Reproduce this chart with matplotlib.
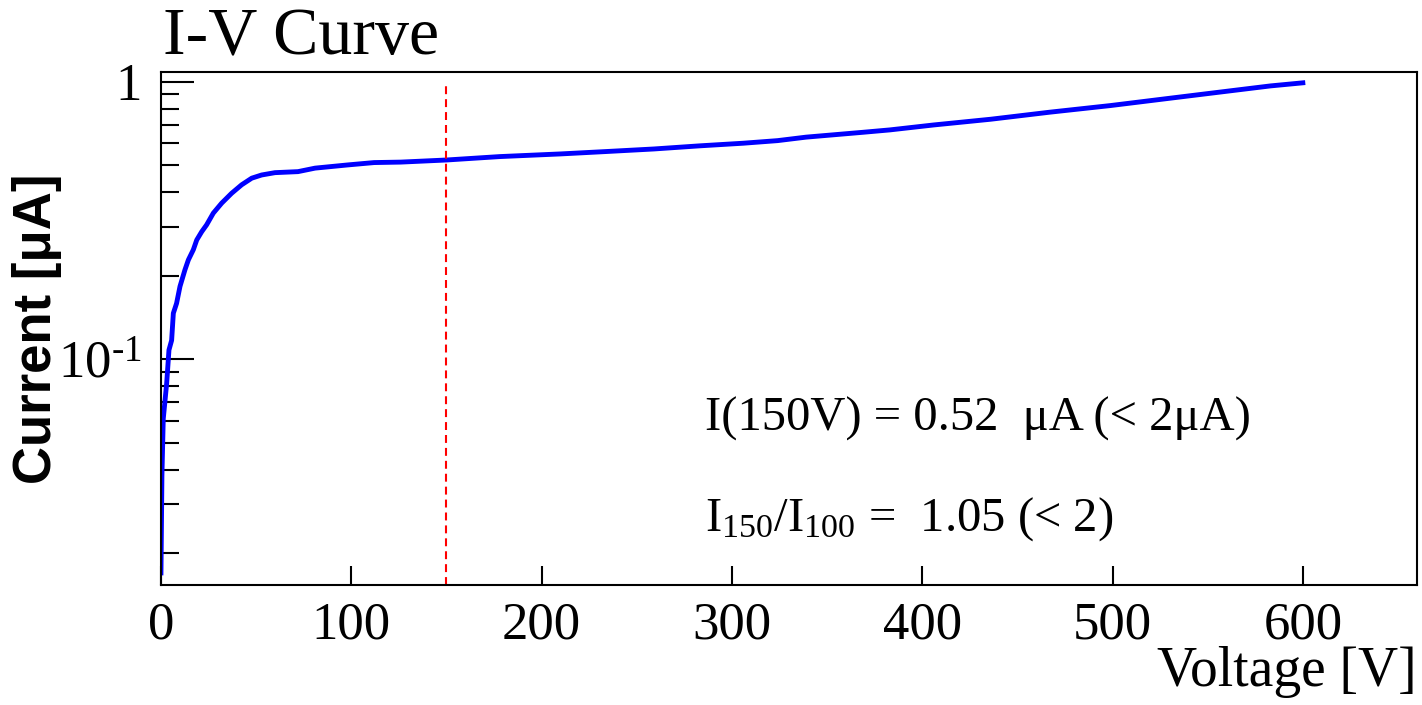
import numpy as np
import matplotlib
matplotlib.use('Agg')
import matplotlib.pyplot as plt
from matplotlib.ticker import FixedLocator, NullFormatter

plt.rcParams['font.family'] = 'Liberation Serif'
plt.rcParams['mathtext.fontset'] = 'custom'
plt.rcParams['mathtext.rm'] = 'Liberation Serif'
plt.rcParams['mathtext.it'] = 'Liberation Serif:italic'

# I-V scan: bias voltage [V] and leakage current [uA]
voltage = [0, 0.5, 1.2, 3.0, 4.2, 5.6, 6.5, 8.2, 10, 12.6, 14.4, 17, 18.8,
           21.4, 24, 27.5, 31.9, 37.1, 42.4, 47.7, 52.9, 59.9, 72, 81, 98,
           112, 126, 150, 178, 210, 234, 259, 283, 306, 324, 339, 353, 369,
           383, 406, 436, 467, 499, 530, 556, 583, 600]
current = [0.017, 0.038, 0.061, 0.082, 0.108, 0.117, 0.1465, 0.159, 0.183,
           0.210, 0.228, 0.248, 0.269, 0.288, 0.305, 0.336, 0.365, 0.396,
           0.425, 0.449, 0.461, 0.470, 0.474, 0.488, 0.501, 0.511, 0.513,
           0.522, 0.537, 0.549, 0.560, 0.572, 0.587, 0.600, 0.613, 0.631,
           0.643, 0.657, 0.670, 0.698, 0.732, 0.776, 0.820, 0.871, 0.916,
           0.965, 0.99]

v_check = 150
i_at_check = 0.52
ratio = 1.05

fig = plt.figure(figsize=(14.22, 7.05), dpi=100)
ax = fig.add_axes([0.1132, 0.1702, 0.8833, 0.7272])

ax.plot(voltage, current, color='blue', lw=3.5)
ax.set_yscale('log')
ax.set_xlim(0, 660)
ax.set_ylim(0.01538, 1.08)
ax.vlines(v_check, 0.01538, 1.0, color='red', lw=1.5, linestyles=(0, (3.8, 2.4)))

ax.set_xticks([0, 100, 200, 300, 400, 500, 600])
ax.yaxis.set_major_locator(FixedLocator([0.1, 1]))
ax.set_yticklabels(['10$^{\\text{-1}}$', '1'])
ax.yaxis.set_minor_locator(FixedLocator([0.02, 0.03, 0.04, 0.05, 0.06, 0.07, 0.08, 0.09,
                                         0.2, 0.3, 0.4, 0.5, 0.6, 0.7, 0.8, 0.9]))
ax.yaxis.set_minor_formatter(NullFormatter())
ax.tick_params(axis='x', direction='in', length=14, width=1.5, labelsize=38, pad=12)
ax.tick_params(axis='y', which='major', direction='in', length=24, width=1.5, labelsize=38, pad=14)
ax.tick_params(axis='y', which='minor', direction='in', length=13, width=1.5)
for s in ax.spines.values():
    s.set_linewidth(1.5)

ax.set_xlabel('Voltage [V]', fontsize=40, ha='right', va='top')
ax.xaxis.set_label_coords(1.0, -0.118)
ax.set_ylabel('Current [\u03bcA]', fontsize=38, family='Liberation Sans',
              fontweight='bold', ha='right', va='center')
ax.yaxis.set_label_coords(-0.0987, 0.8036)

fig.text(0.1146, 0.922, 'I-V Curve', fontsize=49, ha='left', va='baseline')

ax.text(0.433, 0.302, 'I(%dV) = %.2f  \u03bcA (< 2\u03bcA)' % (v_check, i_at_check),
        transform=ax.transAxes, fontsize=35, ha='left', va='baseline')
ax.text(0.433, 0.107, 'I$_{150}$/I$_{100}$ =  %.2f (< 2)' % ratio,
        transform=ax.transAxes, fontsize=35, ha='left', va='baseline')

fig.savefig('out.png', dpi=100)
